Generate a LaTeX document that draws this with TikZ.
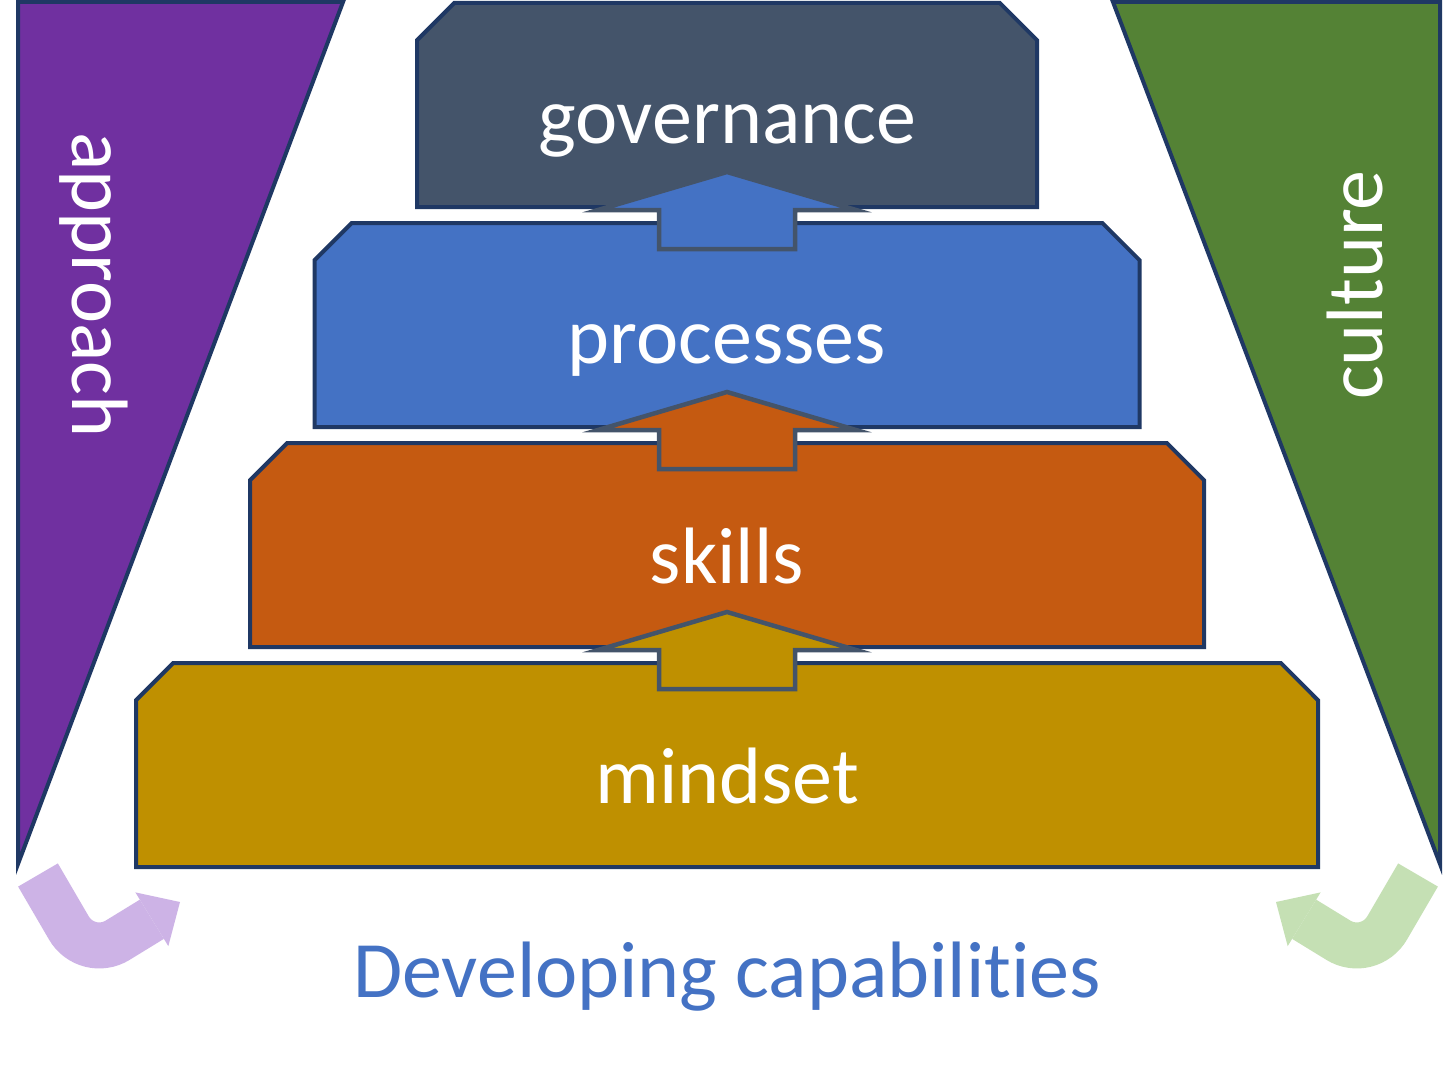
\documentclass[tikz,border=0pt]{standalone}
\usepackage{fontspec}
\setmainfont[Ligatures=NoCommon]{Carlito}
\usepackage{xcolor}
\usepackage{tikz}
\usetikzlibrary{
arrows.meta,
positioning,
shapes.misc,
calc
}

\definecolor{navyline}{HTML}{1F3864}
\definecolor{liftline}{HTML}{44546A}
\definecolor{govslate}{HTML}{44546A}
\definecolor{procblue}{HTML}{4472C4}
\definecolor{sklorange}{HTML}{C55A11}
\definecolor{mindgold}{HTML}{BF9000}
\definecolor{approachpurple}{HTML}{7030A0}
\definecolor{culturegreen}{HTML}{548235}
\definecolor{lilac}{HTML}{CDB3E6}
\definecolor{mint}{HTML}{C5E0B4}
\definecolor{capblue}{HTML}{4472C4}

\begin{document}
\begin{tikzpicture}[
x=1pt,
y=-1pt,
layer/.style={
draw=navyline,
line width=4pt,
chamfered rectangle,
chamfered rectangle corners={north west,north east},
chamfered rectangle xsep=34pt,
chamfered rectangle angle=45,
minimum height=204pt,
inner sep=0pt,
outer sep=0pt,
text=white,
font=\fontsize{80}{96}\selectfont,
text height=76pt,
text depth=0pt
},
side/.style={draw=navyline, line width=4pt},
sidelabel/.style={
text=white,
font=\fontsize{80}{96}\selectfont,
anchor=base,
inner sep=0pt
},
lift/.style={draw=liftline, line width=4.5pt, line join=miter},
turn/.style={
line width=46pt,
rounded corners=36pt,
-{Triangle[length=33pt,width=63pt,line width=0pt]}
}
]
\useasboundingbox (0,0) rectangle (1456,1070);
\fill[white] (0,0) rectangle (1456,1070);

% side wedges
\draw[side, fill=approachpurple] (18,2) -- (343,2) -- (18,864) -- cycle;
\draw[side, fill=culturegreen] (1113,2) -- (1440,2) -- (1440,864) -- cycle;
\node[sidelabel, rotate=-90] (appr) at (72,285) {approach};
\node[sidelabel, rotate=90] (cult) at (1382,285) {culture};

% layers
\node[layer, fill=govslate, minimum width=620pt] (gov) at (727,105) {governance};
\node[layer, fill=procblue, minimum width=825pt] (proc) at (727,325) {processes};
\node[layer, fill=sklorange, minimum width=954pt] (skl) at (727,545) {skills};
\node[layer, fill=mindgold, minimum width=1182pt] (mind) at (727,765) {mindset};

% arrows up
\foreach \lo/\col in {proc/procblue, skl/sklorange, mind/mindgold}
\draw[lift, fill=\col] ($(\lo.north)+(-68,26)$) -- ++(0,-39) -- ++(-61,0)
-- ($(\lo.north)+(0,-51)$) -- ($(\lo.north)+(129,-13)$) -- ++(-61,0)
-- ++(0,39) -- cycle;

% bent arrows
\coordinate (lstart) at (38,875);
\coordinate (lbend) at (87,959);
\coordinate (ltip) at (180,902);
\coordinate (rstart) at (1418,875);
\coordinate (rbend) at (1369,959);
\coordinate (rtip) at (1276,902);
\draw[turn, color=lilac] (lstart) -- (lbend) -- (ltip);
\draw[turn, color=mint] (rstart) -- (rbend) -- (rtip);

\node[font=\fontsize{80}{96}\selectfont, text=capblue, anchor=base, inner sep=0pt]
(cap) at (727,997) {Developing capabilities};

\end{tikzpicture}
\end{document}
